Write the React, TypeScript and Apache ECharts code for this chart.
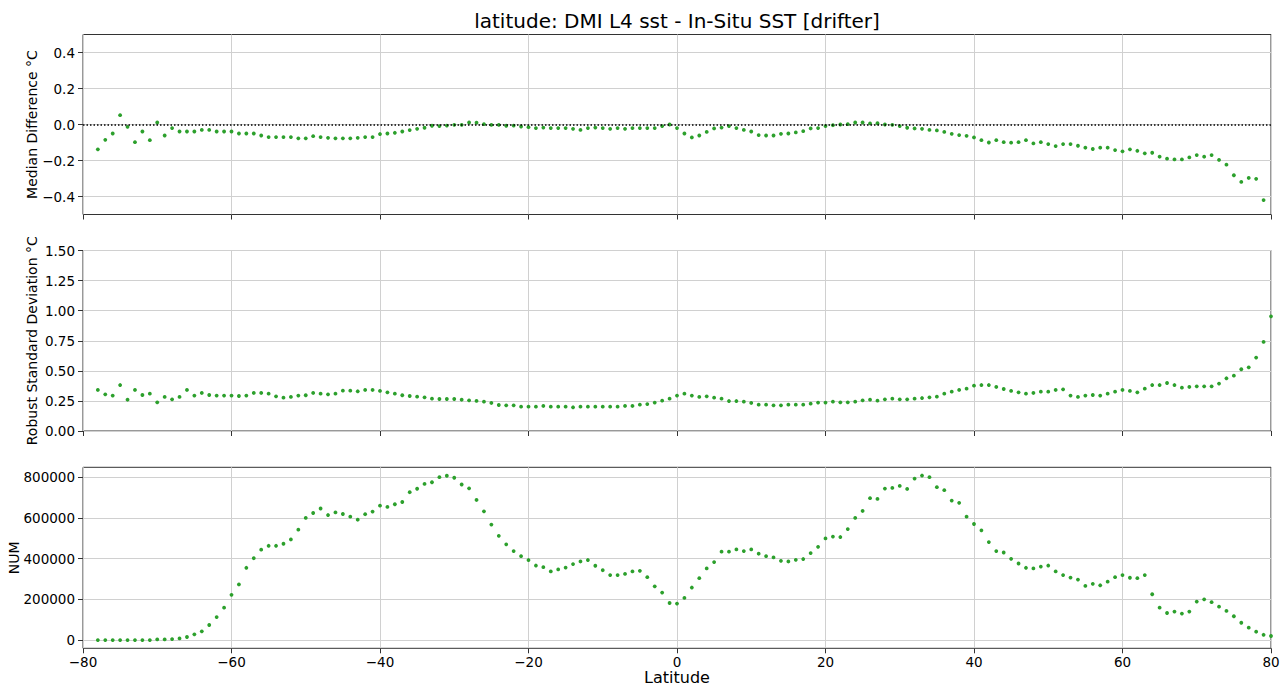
import React, { useEffect, useRef } from "react";
import * as echarts from "echarts";

const TITLE = "latitude: DMI L4 sst - In-Situ SST [drifter]";

const LATITUDES = [
  -78, -77, -76, -75, -74, -73, -72, -71, -70, -69,
  -68, -67, -66, -65, -64, -63, -62, -61, -60, -59,
  -58, -57, -56, -55, -54, -53, -52, -51, -50, -49,
  -48, -47, -46, -45, -44, -43, -42, -41, -40, -39,
  -38, -37, -36, -35, -34, -33, -32, -31, -30, -29,
  -28, -27, -26, -25, -24, -23, -22, -21, -20, -19,
  -18, -17, -16, -15, -14, -13, -12, -11, -10, -9,
  -8, -7, -6, -5, -4, -3, -2, -1, 0, 1,
  2, 3, 4, 5, 6, 7, 8, 9, 10, 11,
  12, 13, 14, 15, 16, 17, 18, 19, 20, 21,
  22, 23, 24, 25, 26, 27, 28, 29, 30, 31,
  32, 33, 34, 35, 36, 37, 38, 39, 40, 41,
  42, 43, 44, 45, 46, 47, 48, 49, 50, 51,
  52, 53, 54, 55, 56, 57, 58, 59, 60, 61,
  62, 63, 64, 65, 66, 67, 68, 69, 70, 71,
  72, 73, 74, 75, 76, 77, 78, 79, 80,
];

const MEDIAN_DIFF: (number | null)[] = [
  -0.138, -0.085, -0.05, 0.052, -0.013, -0.098, -0.039, -0.087, 0.011, -0.061,
  -0.02, -0.039, -0.039, -0.039, -0.03, -0.03, -0.039, -0.039, -0.039, -0.05,
  -0.05, -0.05, -0.061, -0.07, -0.07, -0.07, -0.07, -0.077, -0.077, -0.065,
  -0.07, -0.074, -0.077, -0.077, -0.077, -0.074, -0.07, -0.07, -0.053, -0.05,
  -0.046, -0.039, -0.031, -0.024, -0.018, -0.007, -0.009, -0.006, -0.002, -0.002,
  0.011, 0.01, 0.002, -0.002, -0.002, -0.007, -0.006, -0.011, -0.015, -0.02,
  -0.017, -0.02, -0.02, -0.02, -0.024, -0.03, -0.02, -0.017, -0.02, -0.024,
  -0.02, -0.024, -0.02, -0.02, -0.02, -0.02, -0.009, 0, -0.02, -0.05,
  -0.072, -0.061, -0.041, -0.022, -0.017, -0.009, -0.02, -0.03, -0.039, -0.059,
  -0.061, -0.061, -0.052, -0.05, -0.044, -0.037, -0.022, -0.02, -0.009, -0.004,
  0, 0.002, 0.011, 0.011, 0.006, 0.007, 0, -0.002, -0.009, -0.018,
  -0.022, -0.024, -0.03, -0.033, -0.041, -0.052, -0.059, -0.063, -0.072, -0.087,
  -0.1, -0.087, -0.098, -0.101, -0.098, -0.087, -0.105, -0.098, -0.109, -0.12,
  -0.109, -0.109, -0.118, -0.129, -0.136, -0.129, -0.129, -0.142, -0.149, -0.138,
  -0.146, -0.16, -0.157, -0.179, -0.19, -0.194, -0.194, -0.183, -0.17, -0.179,
  -0.17, -0.197, -0.223, -0.282, -0.319, -0.297, -0.302, -0.42, null,
];

const ROBUST_SD = [
  0.341, 0.305, 0.294, 0.382, 0.26, 0.341, 0.299, 0.31, 0.238, 0.283,
  0.263, 0.283, 0.341, 0.294, 0.316, 0.299, 0.294, 0.294, 0.294, 0.291,
  0.294, 0.316, 0.316, 0.31, 0.288, 0.277, 0.283, 0.294, 0.297, 0.316,
  0.31, 0.305, 0.31, 0.335, 0.335, 0.33, 0.341, 0.341, 0.333, 0.321,
  0.31, 0.297, 0.291, 0.285, 0.28, 0.269, 0.266, 0.266, 0.266, 0.26,
  0.255, 0.25, 0.244, 0.233, 0.216, 0.213, 0.213, 0.202, 0.202, 0.202,
  0.208, 0.202, 0.202, 0.202, 0.197, 0.202, 0.202, 0.202, 0.202, 0.202,
  0.202, 0.208, 0.208, 0.219, 0.224, 0.236, 0.252, 0.269, 0.294, 0.31,
  0.294, 0.283, 0.288, 0.277, 0.269, 0.249, 0.249, 0.244, 0.233, 0.219,
  0.219, 0.213, 0.213, 0.219, 0.219, 0.219, 0.227, 0.236, 0.236, 0.244,
  0.238, 0.238, 0.244, 0.255, 0.26, 0.252, 0.263, 0.269, 0.263, 0.263,
  0.269, 0.274, 0.28, 0.285, 0.31, 0.327, 0.341, 0.352, 0.377, 0.382,
  0.382, 0.366, 0.349, 0.333, 0.321, 0.31, 0.316, 0.327, 0.327, 0.341,
  0.346, 0.294, 0.283, 0.294, 0.299, 0.294, 0.31, 0.327, 0.341, 0.333,
  0.321, 0.352, 0.382, 0.382, 0.399, 0.382, 0.36, 0.366, 0.371, 0.371,
  0.371, 0.394, 0.438, 0.46, 0.513, 0.529, 0.61, 0.74, 0.953,
];

const NUM = [
  0, 0, 0, 0, 0, 0, 0, 0, 3300, 3300,
  5000, 8200, 15000, 28000, 43000, 74000, 113000, 159000, 222000, 273000,
  355000, 402000, 444000, 463000, 463000, 473000, 494000, 542000, 600000, 624000,
  646000, 614000, 627000, 619000, 606000, 591000, 618000, 631000, 660000, 654000,
  667000, 678000, 726000, 743000, 767000, 775000, 800000, 807000, 797000, 764000,
  745000, 688000, 632000, 567000, 512000, 470000, 437000, 412000, 393000, 366000,
  358000, 337000, 347000, 356000, 373000, 386000, 393000, 365000, 343000, 319000,
  319000, 325000, 337000, 340000, 309000, 264000, 233000, 182000, 179000, 207000,
  258000, 304000, 352000, 383000, 434000, 434000, 445000, 437000, 445000, 424000,
  412000, 406000, 389000, 386000, 394000, 398000, 427000, 458000, 499000, 508000,
  506000, 545000, 600000, 634000, 697000, 693000, 744000, 747000, 757000, 742000,
  793000, 808000, 800000, 751000, 736000, 685000, 674000, 606000, 570000, 539000,
  481000, 437000, 430000, 399000, 376000, 355000, 352000, 361000, 366000, 337000,
  319000, 307000, 297000, 266000, 276000, 269000, 287000, 309000, 319000, 306000,
  304000, 319000, 225000, 159000, 133000, 140000, 130000, 140000, 189000, 200000,
  186000, 164000, 143000, 117000, 85000, 61000, 41000, 26000, 20000,
];

const MEDIAN_TICKS = [-0.4, -0.2, 0, 0.2, 0.4];
const NUM_TICKS = [0, 200000, 400000, 600000, 800000];

const FONT = "DejaVu Sans";
const GREEN = "#2ca02c";
const FRAME = "#333333";
const GRIDC = "#d0d0d0";
const TICK_FS = 13.5;

const toPairs = (vals: (number | null)[]) =>
  LATITUDES.map((lat, i) => [lat, vals[i]]).filter((p) => p[1] !== null && p[1] !== undefined);

const withMinus = (s: string) => s.replace("-", "\u2212");

export default function App() {
  const ref = useRef<HTMLDivElement>(null);

  useEffect(() => {
    document.body.style.margin = "0";
    if (!ref.current) return;
    const chart = echarts.init(ref.current, undefined, { renderer: "svg" });

    const grids = [
      { left: 83, right: 13, top: 34.5, height: 180 },
      { left: 83, right: 13, top: 250.5, height: 180.5 },
      { left: 83, right: 13, top: 467.3, height: 181 },
    ].map((g) => ({
      ...g,
      show: true,
      borderColor: FRAME,
      borderWidth: 1,
      backgroundColor: "transparent",
      containLabel: false,
      outerBoundsMode: "none",
    }));

    const xAxisBase = (idx: number) => ({
      type: "value",
      gridIndex: idx,
      min: -80,
      max: 80,
      interval: 20,
      axisLine: { show: false, onZero: false },
      axisTick: { show: true, length: 5, lineStyle: { color: FRAME } },
      splitLine: { show: true, lineStyle: { color: GRIDC, width: 1 } },
      axisLabel: {
        show: idx === 2,
        fontFamily: FONT,
        fontSize: TICK_FS,
        color: "#000",
        margin: 7,
        formatter: (v: number) => withMinus(String(v)),
      },
      ...(idx === 2
        ? {
            name: "Latitude",
            nameLocation: "middle",
            nameGap: 21,
            nameMoveOverlap: false,
            nameTextStyle: { fontFamily: FONT, fontSize: 16, color: "#000" },
          }
        : {}),
    });

    const yCommon = {
      type: "value",
      axisLine: { show: false, onZero: false },
      axisTick: { show: true, length: 5, lineStyle: { color: FRAME } },
      splitLine: { show: true, lineStyle: { color: GRIDC, width: 1 } },
      nameLocation: "middle",
      nameMoveOverlap: false,
      nameTextStyle: { fontFamily: FONT, fontSize: 14, color: "#000" },
    };

    const option: any = {
      animation: false,
      backgroundColor: "#ffffff",
      grid: grids,
      graphic: [
        {
          type: "text",
          x: 677,
          y: 21,
          style: {
            text: TITLE,
            font: `20px "${FONT}"`,
            fill: "#000",
            textAlign: "center",
            textVerticalAlign: "middle",
          },
        },
      ],
      xAxis: [xAxisBase(0), xAxisBase(1), xAxisBase(2)],
      yAxis: [
        {
          ...yCommon,
          gridIndex: 0,
          min: -0.5,
          max: 0.5,
          name: "Median Difference °C",
          nameGap: 44,
          axisTick: { ...yCommon.axisTick, customValues: MEDIAN_TICKS },
          axisLabel: {
            fontFamily: FONT,
            fontSize: TICK_FS,
            color: "#000",
            margin: 8,
            customValues: MEDIAN_TICKS,
            formatter: (v: number) => withMinus(v.toFixed(1)),
          },
        },
        {
          ...yCommon,
          gridIndex: 1,
          min: 0,
          max: 1.5,
          interval: 0.25,
          name: "Robust Standard Deviation °C",
          nameGap: 44,
          axisLabel: {
            fontFamily: FONT,
            fontSize: TICK_FS,
            color: "#000",
            margin: 8,
            formatter: (v: number) => v.toFixed(2),
          },
        },
        {
          ...yCommon,
          gridIndex: 2,
          min: -40400,
          max: 848400,
          name: "NUM",
          nameGap: 62,
          axisTick: { ...yCommon.axisTick, customValues: NUM_TICKS },
          axisLabel: {
            fontFamily: FONT,
            fontSize: TICK_FS,
            color: "#000",
            margin: 8,
            customValues: NUM_TICKS,
            formatter: (v: number) => String(Math.round(v)),
          },
        },
      ],
      series: [
        {
          type: "scatter",
          xAxisIndex: 0,
          yAxisIndex: 0,
          data: toPairs(MEDIAN_DIFF),
          symbolSize: 3.8,
          itemStyle: { color: GREEN, opacity: 1 },
          markLine: {
            silent: true,
            symbol: "none",
            label: { show: false },
            lineStyle: { color: "#000", type: [1.5, 2], width: 1.5, opacity: 1 },
            data: [{ yAxis: 0 }],
          },
        },
        {
          type: "scatter",
          xAxisIndex: 1,
          yAxisIndex: 1,
          data: toPairs(ROBUST_SD),
          symbolSize: 3.8,
          itemStyle: { color: GREEN, opacity: 1 },
        },
        {
          type: "scatter",
          xAxisIndex: 2,
          yAxisIndex: 2,
          data: toPairs(NUM),
          symbolSize: 3.8,
          itemStyle: { color: GREEN, opacity: 1 },
        },
      ],
    };

    chart.setOption(option);
    return () => chart.dispose();
  }, []);

  return <div ref={ref} style={{ width: 1284, height: 686 }} />;
}
